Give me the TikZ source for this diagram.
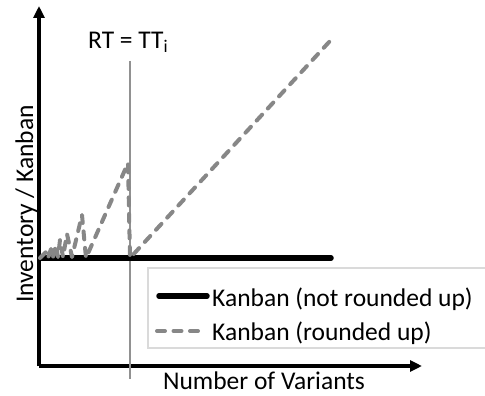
\documentclass[tikz,border=0pt]{standalone}
\usepackage{fontspec}
\setmainfont{Carlito}
\usetikzlibrary{
    arrows.meta,
    positioning
}
\definecolor{axisblack}{RGB}{0,0,0}
\definecolor{curvegray}{RGB}{135,135,135}
\definecolor{markgray}{RGB}{145,145,145}
\definecolor{framegray}{RGB}{218,218,218}
\tikzset{
    % Axis styles
    axis arrow/.style={
        -{Triangle[length=12pt,width=11pt]},
        line width=3.3pt,
        axisblack
    },
    % Curve styles
    kanban flat/.style={
        line width=5.5pt,
        line cap=round,
        axisblack
    },
    kanban round/.style={
        line width=4pt,
        curvegray,
        line cap=round,
        dash pattern=on 8pt off 8.5pt,
        line join=round
    },
    time mark/.style={
        line width=2.2pt,
        markgray
    },
    % Text styles
    label text/.style={
        font=\fontsize{25.5}{30}\selectfont,
        inner sep=0pt
    },
    legend box/.style={
        draw=framegray,
        line width=2.5pt,
        fill=white
    }
}
\begin{document}
\begin{tikzpicture}[x=1pt, y=-1pt]
        \useasboundingbox (0,0) rectangle (485,396);

        % Axes
        \coordinate (origin) at (39,366);
        \coordinate (ytip) at (39,6);
        \coordinate (xtip) at (422,366);
        \draw[axis arrow] (origin) -- (ytip);
        \draw[axis arrow] (origin) -- (xtip);
        \node[label text, rotate=90, anchor=base] (ylabel) at (33,204) {Inventory / Kanban};
        \node[label text, anchor=base] (xlabel) at (264,389) {Number of Variants};

        % RT = TT_i marker
        \coordinate (marktop) at (130,61);
        \coordinate (markbottom) at (130,379);
        \draw[time mark] (marktop) -- (markbottom);
        \node[label text, anchor=base west] (rtlabel) at (88,49) {RT = TT\textsubscript{i}};

        % Kanban, not rounded up
        \coordinate (flatstart) at (40,258);
        \coordinate (flatend) at (331,258);
        \draw[kanban flat] (flatstart) -- (flatend);

        % Kanban, rounded up
        \draw[kanban round] (flatstart) -- (46,252) -- (48,258) -- (51,249)
            -- (53,257) -- (56,245) -- (58,257) -- (60,240) -- (63,257)
            -- (67,234) -- (72,257) -- (82,215) -- (86,258) -- (128,163)
            -- (130,258) -- (330,41);

        % Legend
        \draw[legend box] (148,268) rectangle (492,348);
        \coordinate (flatkeyA) at (159,296);
        \coordinate (flatkeyB) at (207,296);
        \coordinate (roundkeyA) at (157,331);
        \coordinate (roundkeyB) at (206,331);
        \draw[kanban flat] (flatkeyA) -- (flatkeyB);
        \draw[kanban round] (roundkeyA) -- (roundkeyB);
        \node[label text, anchor=base west] (flatkey) at (212,306) {Kanban (not rounded up)};
        \node[label text, anchor=base west] (roundkey) at (212,340) {Kanban (rounded up)};
    \end{tikzpicture}
\end{document}
